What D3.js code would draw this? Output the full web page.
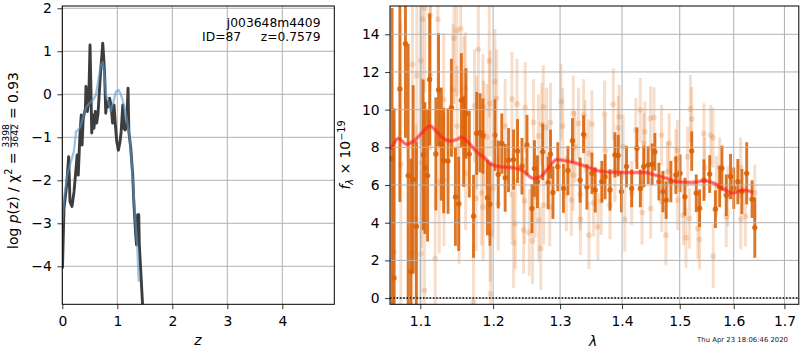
<!DOCTYPE html>
<html><head><meta charset="utf-8">
<script src="https://cdn.jsdelivr.net/npm/d3@7"></script>
<style>
body{margin:0;background:#fff}
svg{font-family:"DejaVu Sans",sans-serif}
</style>
</head><body>
<svg id="c" width="800" height="350"></svg>
<script>
// ---------------- DATA ----------------
// left panel: redshift PDF (dark) and prior-like smooth curve (blue)
const pzZ = [0.003,0.031,0.08,0.116,0.14,0.176,0.213,0.25,0.27,0.29,0.32,0.345,0.36,0.38,0.42,0.43,0.455,0.48,0.504,0.52,0.535,0.56,0.576,0.60,0.625,0.65,0.67,0.70,0.72,0.735,0.75,0.77,0.79,0.81,0.84,0.86,0.885,0.915,0.94,0.965,0.99,1.02,1.05,1.07,1.10,1.12,1.145,1.17,1.195,1.21,1.245,1.28,1.30,1.335,1.35,1.37,1.39,1.40,1.43,1.46];
const pzLogp = [-4.05,-2.65,-2.1,-1.45,-2.5,-2.61,-2.27,-1.72,-1.41,-1.88,-0.95,-0.48,-1.18,-0.56,-0.33,0.18,-0.4,-0.17,1.15,0.14,-0.9,-0.48,-0.79,-0.4,-0.67,-0.44,-0.02,0.6,0.91,1.19,0.91,0.45,-0.44,-0.17,-0.29,-0.09,-0.25,-0.67,-0.25,-0.71,-1.1,-1.3,-1.1,-0.87,-0.25,-0.79,-0.83,-0.71,0.14,-0.87,-1.26,-1.88,-2.5,-3.27,-3.5,-2.8,-2.8,-3.5,-4.2,-4.9];
const smoothZ = [0.0,0.04,0.09,0.15,0.21,0.25,0.29,0.33,0.38,0.44,0.50,0.56,0.61,0.66,0.70,0.735,0.76,0.795,0.83,0.88,0.93,0.975,1.025,1.07,1.12,1.17,1.22,1.255,1.29,1.33,1.365,1.39];
const smoothLogp = [-3.0,-2.33,-1.88,-1.6,-1.33,-0.87,-0.83,-0.75,-0.52,-0.29,-0.2,-0.13,-0.02,0.37,0.68,0.75,0.53,-0.02,-0.13,-0.4,-0.17,0.06,0.1,-0.02,-0.25,-0.56,-0.95,-1.49,-2.19,-2.96,-3.58,-4.36];
const zTicks = [0,1,2,3,4];
const logpTicks = [-4,-3,-2,-1,0,1,2];

// right panel: spectrum (dark series)
const lamA = [1.0634,1.0660,1.0734,1.0806,1.0841,1.0876,1.0906,1.0948,1.1037,1.1060,1.1096,1.1123,1.1206,1.1242,1.1279,1.1311,1.1370,1.1416,1.1471,1.1516,1.1553,1.1585,1.1617,1.1663,1.1722,1.1767,1.1814,1.1855,1.1918,1.1955,1.2025,1.2074,1.2125,1.2174,1.2223,1.2297,1.2356,1.2421,1.2496,1.2570,1.2608,1.2653,1.2733,1.2816,1.2852,1.2890,1.2965,1.3053,1.3123,1.3194,1.3316,1.3371,1.3424,1.3505,1.3558,1.3666,1.3719,1.3800,1.3881,1.3936,1.3989,1.4075,1.4163,1.4251,1.4309,1.4368,1.4444,1.4514,1.4561,1.4631,1.4702,1.4759,1.4842,1.4930,1.5006,1.5093,1.5216,1.5299,1.5360,1.5440,1.5547,1.5653,1.5733,1.5776,1.5858,1.5939,1.6000,1.6079,1.6158,1.6250,1.6355,1.6408];
const fluxA = [7.4,1.07,11.1,13.5,6.5,1.4,6.3,3.8,7.6,6.9,6.5,11.6,7.65,11.05,8.17,7.3,7.27,10.1,5.37,5.0,10.5,8.3,9.8,7.64,4.34,8.74,8.77,8.6,5.33,4.98,8.65,6.56,8.2,6.38,7.32,7.35,7.8,7.0,8.12,4.75,6.88,6.17,7.76,6.12,7.64,5.6,6.97,5.82,6.77,8.35,6.26,8.69,5.9,6.62,5.74,6.18,6.44,5.74,7.6,7.56,5.65,6.98,5.82,7.95,5.82,6.98,7.06,7.1,7.76,6.18,5.65,5.2,6.18,6.53,6.62,5.38,7.8,5.56,4.77,6.26,6.58,4.72,5.92,6.89,5.46,6.45,5.83,6.18,5.65,6.62,5.25,3.74];
const errA = [8,9,6,5,7,6,5,4.5,4,3.5,3.5,3.5,3,3,3,2.8,2.8,2.6,2.6,2.5,2.5,2.4,2.4,2.3,2.2,2.2,2.1,2.0,2.0,2.2,1.9,1.8,1.6,1.8,1.7,1.6,1.7,1.5,1.6,1.3,1.5,1.4,1.5,1.4,1.3,1.4,1.3,1.3,1.3,1.2,1.2,1.0,1.2,1.1,1.2,1.1,1.2,1.1,1.2,1.1,1.1,1.1,1.0,1.1,1.0,1.1,1.0,1.1,1.0,1.0,1.1,1.0,1.1,1.0,1.0,1.0,1.05,1.0,1.0,1.1,1.0,1.0,1.1,1.2,1.1,1.2,1.1,1.2,1.2,1.65,1.0,1.6];

// right panel: spectrum (light series)
const lamB = [1.0660,1.0746,1.0889,1.0897,1.0944,1.0954,1.1005,1.1008,1.1014,1.1027,1.1055,1.1060,1.1129,1.1133,1.1197,1.1233,1.1252,1.1311,1.1315,1.1438,1.1452,1.1489,1.1493,1.1521,1.1544,1.1585,1.1589,1.1608,1.1612,1.1722,1.1736,1.1759,1.1767,1.1790,1.1836,1.1855,1.1858,1.1863,1.1910,1.1945,1.1955,1.1958,1.1962,1.2000,1.2025,1.2050,1.2074,1.2174,1.2273,1.2277,1.2297,1.2322,1.2347,1.2445,1.2460,1.2470,1.2530,1.2579,1.2594,1.2619,1.2668,1.2672,1.2703,1.2718,1.2742,1.2746,1.2792,1.2841,1.2852,1.3016,1.3042,1.3097,1.3177,1.3203,1.3207,1.3235,1.3290,1.3316,1.3320,1.3371,1.3397,1.3452,1.3456,1.3505,1.3532,1.3602,1.3655,1.3710,1.3719,1.3800,1.3855,1.3881,1.3936,1.3952,1.4018,1.4046,1.4163,1.4233,1.4309,1.4339,1.4368,1.4386,1.4484,1.4488,1.4544,1.4677,1.4681,1.4754,1.4782,1.4812,1.4930,1.4958,1.4962,1.5067,1.5112,1.5142,1.5174,1.5192,1.5216,1.5328,1.5360,1.5440,1.5453,1.5565,1.5608,1.5612,1.5672,1.5733,1.5858,1.5888,1.6132,1.6136,1.6225,1.6408];
const fluxB = [2.45,7.1,2.4,12.4,4.22,11.8,12.6,2.36,7.18,14.8,0.41,15.4,15.0,11.85,2.09,14.8,6.17,10.55,6.26,11.05,13.8,14.2,9.13,5.02,14.3,9.1,10.7,11.1,6.62,-0.2,10.2,5.29,8.77,13.2,5.58,10.15,4.84,8.74,8.56,12.58,10.33,3.46,0.23,5.82,11.48,10.6,5.02,9.13,10.56,5.5,2.95,3.96,10.3,3.6,5.16,10.12,3.48,3.03,9.32,5.38,8.6,4.14,2.63,9.22,10.15,4.93,9.06,4.84,9.32,10.42,9.13,5.55,5.2,6.52,9.8,8.03,9.27,5.5,4.19,9.71,8.6,7.68,3.34,9.23,5.06,3.78,5.15,9.75,7.82,4.93,10.28,6.79,9.04,9.62,8.03,4.17,5.58,8.92,9.98,4.54,8.21,8.83,9.54,4.75,9.59,8.65,5.11,3.34,6.71,8.21,7.36,7.85,5.2,4.4,3.21,7.5,4.22,10.04,9.5,3.69,3.12,8.74,6.93,8.65,8.51,2.22,5.93,6.93,4.31,5.4,6.93,4.19,4.34,5.58];
const errB = [7,7.5,6,6,5,5.5,4.5,4.5,4.5,4.5,4,4.5,4,4,3.8,4,3.8,3.5,3.5,3.5,3.5,3.5,3.2,3.2,3.5,3.0,3.2,3.0,3.0,3.0,3.0,2.8,3.0,3.2,2.8,2.8,2.8,2.8,2.8,3.0,2.8,2.6,2.6,2.6,2.8,2.6,2.5,2.5,2.5,2.4,2.4,2.4,2.4,2.3,2.3,2.4,2.3,2.3,2.3,2.2,2.2,2.2,2.2,2.2,2.2,2.1,2.1,2.1,2.1,2.0,2.0,2.0,1.9,1.9,2.0,1.9,1.9,1.9,1.9,1.9,1.9,1.8,1.8,1.8,1.8,1.8,1.8,1.8,1.8,1.8,1.9,1.7,1.7,1.7,1.7,1.7,1.7,1.7,1.7,1.7,1.6,1.6,1.7,1.6,1.6,1.6,1.6,1.6,1.6,1.6,1.6,1.6,1.6,1.6,1.6,1.6,1.6,1.8,1.7,1.6,1.6,1.6,1.6,1.6,1.6,1.7,1.6,1.6,1.6,1.6,1.6,1.6,1.6,1.5];

// right panel: model
const modelLam = [1.0612,1.0634,1.0712,1.0819,1.0928,1.1014,1.1129,1.1197,1.1288,1.1404,1.1493,1.1553,1.1653,1.1767,1.1822,1.1859,1.1955,1.2099,1.2297,1.2421,1.2594,1.2693,1.2816,1.2950,1.3097,1.3231,1.3397,1.3613,1.3827,1.4046,1.4396,1.4572,1.4777,1.4958,1.5205,1.5453,1.5639,1.5794,1.5981,1.6179,1.6375];
const modelFlux = [7.9,8.04,8.47,8.17,8.38,8.74,9.13,8.92,8.53,8.33,8.42,8.53,8.24,7.76,7.59,7.5,7.15,6.97,6.91,6.79,6.35,6.43,6.88,7.36,7.28,7.18,7.0,6.75,6.68,6.66,6.66,6.52,6.35,6.17,6.13,6.22,6.08,5.81,5.58,5.73,5.6];
const lamTicks = [1.1,1.2,1.3,1.4,1.5,1.6,1.7];
const fluxTicks = [0,2,4,6,8,10,12,14];

// ---------------- DRAW ----------------
const svg = d3.select("#c");
const minus = d => (d < 0 ? "\u2212" + Math.abs(d) : String(d));
const GRID = "#b0b0b0";
const ORANGE = "#d95f02";

// ===== Left panel =====
const L = {x0: 62.3, x1: 334.3, y0: 6, y1: 304.3};
const xz = d3.scaleLinear().domain([0, 4.945]).range([L.x0, L.x1]);
const yp = d3.scaleLinear().domain([-4.884, 2.053]).range([L.y1, L.y0]);

const defs = svg.append("defs");
defs.append("clipPath").attr("id", "clipL").append("rect")
  .attr("x", L.x0).attr("y", L.y0).attr("width", L.x1 - L.x0).attr("height", L.y1 - L.y0);

const gL = svg.append("g");
gL.selectAll(".gx").data(zTicks).join("line")
  .attr("x1", d => xz(d)).attr("x2", d => xz(d)).attr("y1", L.y0).attr("y2", L.y1)
  .attr("stroke", GRID).attr("stroke-width", 1);
gL.selectAll(".gy").data(logpTicks).join("line")
  .attr("x1", L.x0).attr("x2", L.x1).attr("y1", d => yp(d)).attr("y2", d => yp(d))
  .attr("stroke", GRID).attr("stroke-width", 1);

const lineL = (zs, ps) => d3.line().x((d, i) => xz(zs[i])).y((d, i) => yp(ps[i]))(zs);
const gLc = gL.append("g").attr("clip-path", "url(#clipL)");
gLc.append("path").attr("d", lineL(pzZ, pzLogp)).attr("fill", "none")
  .attr("stroke", "#333333").attr("stroke-width", 2.9).attr("stroke-linejoin", "round").attr("opacity", 0.95);
gLc.append("path").attr("d", lineL(smoothZ, smoothLogp)).attr("fill", "none")
  .attr("stroke", "#5b9bd0").attr("stroke-width", 2.3).attr("stroke-linejoin", "round").attr("opacity", 0.6);

const axL = svg.append("g").attr("transform", `translate(0,${L.y1})`)
  .call(d3.axisBottom(xz).tickValues(zTicks).tickFormat(minus).tickSize(4.9).tickPadding(6.6));
const ayL = svg.append("g").attr("transform", `translate(${L.x0},0)`)
  .call(d3.axisLeft(yp).tickValues(logpTicks).tickFormat(minus).tickSize(4.9).tickPadding(5.6));
[axL, ayL].forEach(a => {
  a.select(".domain").remove();
  a.selectAll("text").attr("font-size", "13.9px").attr("font-family", "DejaVu Sans").attr("fill", "#000");
  a.selectAll("line").attr("stroke", "#000").attr("stroke-width", 0.8);
});
svg.append("rect").attr("x", L.x0).attr("y", L.y0).attr("width", L.x1 - L.x0).attr("height", L.y1 - L.y0)
  .attr("fill", "none").attr("stroke", "#000").attr("stroke-width", 1);

svg.append("text").attr("x", 320.5).attr("y", 27.2).attr("text-anchor", "end")
  .attr("font-size", "12.3px").text("j003648m4409");
svg.append("text").attr("x", 320.5).attr("y", 41.2).attr("text-anchor", "end")
  .attr("font-size", "12.3px").style("white-space", "pre").text("ID=87     z=0.7579");

svg.append("text").attr("x", 198).attr("y", 345).attr("text-anchor", "middle")
  .attr("font-size", "13.9px").attr("font-style", "italic").text("z");

{
  const g = svg.append("g").attr("transform", "translate(17.5,160.5) rotate(-90)");
  const inner = g.append("g");
  const t1 = inner.append("text").attr("font-size", "13.9px").attr("x", 0).attr("y", 0);
  t1.append("tspan").text("log ");
  t1.append("tspan").attr("font-style", "italic").text("p");
  t1.append("tspan").text("(z) / \u03c7");
  t1.append("tspan").attr("font-size", "9.7px").attr("dy", -5.5).text("2");
  t1.append("tspan").attr("dy", 5.5).style("white-space", "pre").text(" = ");
  const w1 = t1.node().getComputedTextLength();
  const num = inner.append("text").attr("font-size", "9.3px").attr("text-anchor", "middle").text("3398");
  const den = inner.append("text").attr("font-size", "9.3px").attr("text-anchor", "middle").text("3642");
  const fw = Math.max(num.node().getComputedTextLength(), den.node().getComputedTextLength());
  num.attr("x", w1 + fw / 2 + 0.5).attr("y", -8.4);
  den.attr("x", w1 + fw / 2 + 0.5).attr("y", 0.3);
  inner.append("line").attr("x1", w1 + 0.5).attr("x2", w1 + fw + 0.5).attr("y1", -6.6).attr("y2", -6.6)
    .attr("stroke", "#000").attr("stroke-width", 0.7);
  const t3 = inner.append("text").attr("font-size", "13.9px").attr("x", w1 + fw + 1).attr("y", 0)
    .style("white-space", "pre").text(" = 0.93");
  const total = w1 + fw + 1 + t3.node().getComputedTextLength();
  inner.attr("transform", `translate(${-total / 2},0)`);
}

// ===== Right panel =====
const R = {x0: 390, x1: 799.3, y0: 6, y1: 304.3};
const xl = d3.scaleLog().domain([1.0608, 1.7305]).range([R.x0, R.x1]);
const yf = d3.scaleLinear().domain([-0.33, 15.5]).range([R.y1, R.y0]);

defs.append("clipPath").attr("id", "clipR").append("rect")
  .attr("x", R.x0).attr("y", R.y0).attr("width", R.x1 - R.x0).attr("height", R.y1 - R.y0);

const gR = svg.append("g").attr("clip-path", "url(#clipR)");

const gB = gR.append("g");
lamB.forEach((l, i) => {
  gB.append("line").attr("x1", xl(l)).attr("x2", xl(l))
    .attr("y1", yf(fluxB[i] - errB[i])).attr("y2", yf(fluxB[i] + errB[i]))
    .attr("stroke", ORANGE).attr("stroke-width", 3).attr("opacity", 0.2);
  gB.append("circle").attr("cx", xl(l)).attr("cy", yf(fluxB[i])).attr("r", 2.9)
    .attr("fill", ORANGE).attr("opacity", 0.2);
});
const gA = gR.append("g");
lamA.forEach((l, i) => {
  gA.append("line").attr("x1", xl(l)).attr("x2", xl(l))
    .attr("y1", yf(fluxA[i] - errA[i])).attr("y2", yf(fluxA[i] + errA[i]))
    .attr("stroke", ORANGE).attr("stroke-width", 2.9).attr("opacity", 0.85);
  gA.append("circle").attr("cx", xl(l)).attr("cy", yf(fluxA[i])).attr("r", 2.7)
    .attr("fill", ORANGE).attr("opacity", 0.85);
});

gR.selectAll(".rgx").data(lamTicks).join("line")
  .attr("x1", d => xl(d)).attr("x2", d => xl(d)).attr("y1", R.y0).attr("y2", R.y1)
  .attr("stroke", GRID).attr("stroke-width", 1);
gR.selectAll(".rgy").data(fluxTicks).join("line")
  .attr("x1", R.x0).attr("x2", R.x1).attr("y1", d => yf(d)).attr("y2", d => yf(d))
  .attr("stroke", GRID).attr("stroke-width", 1);

gR.append("line").attr("x1", R.x0).attr("x2", R.x1).attr("y1", yf(0)).attr("y2", yf(0))
  .attr("stroke", "#000").attr("stroke-width", 1.5).attr("stroke-dasharray", "1.5,1.8");

const modelLine = d3.line().x((d, i) => xl(modelLam[i])).y((d, i) => yf(modelFlux[i])).curve(d3.curveMonotoneX);
gR.append("path").attr("d", modelLine(modelLam)).attr("fill", "none")
  .attr("stroke", "#ff2020").attr("stroke-width", 4).attr("opacity", 0.4).attr("stroke-linejoin", "round");
gR.append("path").attr("d", modelLine(modelLam)).attr("fill", "none")
  .attr("stroke", "#ff2020").attr("stroke-width", 2).attr("opacity", 0.5).attr("stroke-linejoin", "round");

const axR = svg.append("g").attr("transform", `translate(0,${R.y1})`)
  .call(d3.axisBottom(xl).tickValues(lamTicks).tickFormat(d3.format(".1f")).tickSize(4.9).tickPadding(6.6));
const ayR = svg.append("g").attr("transform", `translate(${R.x0},0)`)
  .call(d3.axisLeft(yf).tickValues(fluxTicks).tickFormat(minus).tickSize(4.9).tickPadding(5.4));
[axR, ayR].forEach(a => {
  a.select(".domain").remove();
  a.selectAll("text").attr("font-size", "13.9px").attr("font-family", "DejaVu Sans").attr("fill", "#000");
  a.selectAll("line").attr("stroke", "#000").attr("stroke-width", 0.8);
});
svg.append("rect").attr("x", R.x0).attr("y", R.y0).attr("width", R.x1 - R.x0 - 0.5).attr("height", R.y1 - R.y0)
  .attr("fill", "none").attr("stroke", "#000").attr("stroke-width", 1);

svg.append("text").attr("x", 593).attr("y", 345.5).attr("text-anchor", "middle")
  .attr("font-size", "13.9px").attr("font-style", "italic").text("\u03bb");

{
  const g = svg.append("g").attr("transform", "translate(350,155) rotate(-90)");
  const t = g.append("text").attr("font-size", "13.9px").attr("text-anchor", "middle");
  t.append("tspan").attr("font-style", "italic").text("f");
  t.append("tspan").attr("font-style", "italic").attr("font-size", "9.7px").attr("dy", 3).text("\u03bb");
  t.append("tspan").attr("dy", -3).style("white-space", "pre").text(" \u00d7 10");
  t.append("tspan").attr("font-size", "9.7px").attr("dy", -5.5).text("\u221219");
}

svg.append("text").attr("x", 788).attr("y", 341.8).attr("text-anchor", "end")
  .attr("font-size", "6.9px").attr("fill", "#222").text("Thu Apr 23 18:06:46 2020");
</script>
</body></html>
